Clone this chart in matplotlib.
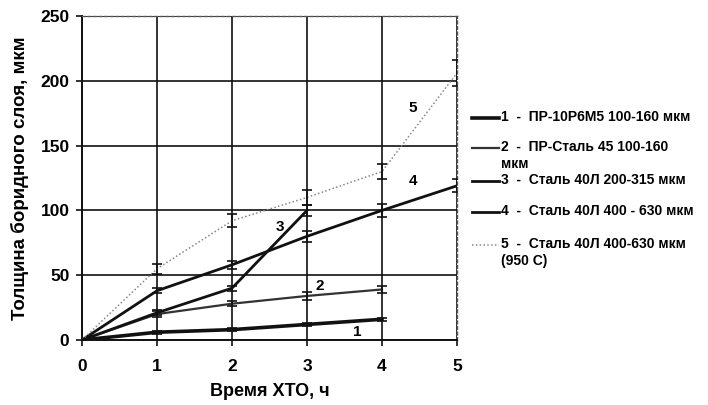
import matplotlib
matplotlib.use("Agg")
import matplotlib.pyplot as plt
from matplotlib.lines import Line2D

plt.rcParams['font.family'] = ['Liberation Sans', 'DejaVu Sans']

# Data
x1 = [0, 1, 2, 3, 4]
y1 = [0, 6, 8, 12, 16]
e1 = [0, 1, 1, 1, 1]

x2 = [0, 1, 2, 3, 4]
y2 = [0, 20, 28, 34, 39]
e2 = [0, 2, 2, 3, 3]

x3 = [0, 1, 2, 3]
y3 = [0, 21, 40, 100]
e3 = [0, 2, 2, 4]

x4 = [0, 1, 2, 3, 4, 5]
y4 = [0, 38, 58, 80, 100, 119]
e4 = [0, 2, 3, 4, 5, 5]

x5 = [0, 1, 2, 3, 4, 5]
y5 = [0, 55, 92, 110, 130, 206]
e5 = [0, 4, 5, 6, 6, 10]

labels = ["1  -  ПР-10Р6М5 100-160 мкм",
          "2  -  ПР-Сталь 45 100-160\nмкм",
          "3  -  Сталь 40Л 200-315 мкм",
          "4  -  Сталь 40Л 400 - 630 мкм",
          "5  -  Сталь 40Л 400-630 мкм\n(950 С)"]
annot = [("1", 3.67, 6), ("2", 3.17, 42), ("3", 2.64, 87), ("4", 4.41, 123), ("5", 4.41, 179)]

fig = plt.figure(figsize=(7.08, 4.05), dpi=100)
ax = fig.add_axes([82/708, 65/405, 375/708, 324/405])

styles = [
    dict(color='#111111', lw=2.6, ls='-'),
    dict(color='#333333', lw=1.6, ls='-'),
    dict(color='#111111', lw=2.0, ls='-'),
    dict(color='#111111', lw=2.0, ls='-'),
    dict(color='#888888', lw=1.1, ls=(0, (1, 1.5))),
]
series = [(x1, y1, e1), (x2, y2, e2), (x3, y3, e3), (x4, y4, e4), (x5, y5, e5)]
for (x, y, e), st in zip(series, styles):
    ax.plot(x, y, **st, zorder=3)
    ax.errorbar(x, y, yerr=e, fmt='none', ecolor='#111111', elinewidth=1.2,
                capsize=3.5, capthick=1.2, zorder=4)

for t, xx, yy in annot:
    ax.text(xx, yy, t, fontsize=11, fontweight='bold', ha='center', va='center', zorder=5)

ax.set_xlim(0, 5)
ax.set_ylim(0, 250)
ax.set_xticks([0, 1, 2, 3, 4, 5])
ax.set_yticks([0, 50, 100, 150, 200, 250])
ax.grid(True, color='#111111', lw=1.2)
ax.set_axisbelow(True)
for s in ['top', 'right']:
    ax.spines[s].set_linestyle((0, (2, 2)))
    ax.spines[s].set_color('#555555')
    ax.spines[s].set_linewidth(1.0)
for s in ['left', 'bottom']:
    ax.spines[s].set_color('#111111')
    ax.spines[s].set_linewidth(1.4)
ax.tick_params(axis='both', labelsize=12.5, length=4, width=1.2, color='#111111')
ax.tick_params(axis='x', pad=10)
ax.tick_params(axis='y', pad=5)
for lab in ax.get_xticklabels() + ax.get_yticklabels():
    lab.set_fontweight('bold')
ax.set_xlabel("Время ХТО, ч", fontsize=13, fontweight='bold', labelpad=6)
ax.set_ylabel("Толщина боридного слоя, мкм", fontsize=13.5, fontweight='bold', labelpad=8)

# Manual legend
leg_y = [118, 148, 181, 212, 245]
for yy, lab, st in zip(leg_y, labels, styles):
    fy = 1 - yy / 405
    fig.add_artist(Line2D([472/708, 499/708], [fy, fy], transform=fig.transFigure, **st))
    fig.text(501/708, fy + 8/405, lab, fontsize=10, fontweight='bold', va='top', ha='left',
             linespacing=1.3)

fig.savefig("out.png", dpi=100)
